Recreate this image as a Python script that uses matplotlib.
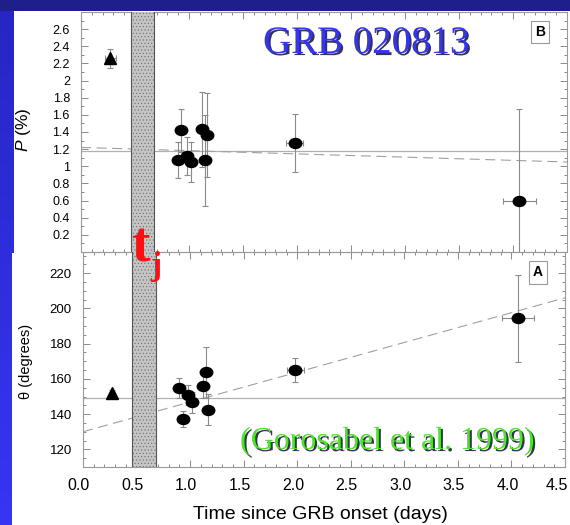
import numpy as np
import matplotlib
matplotlib.use("Agg")
import matplotlib.pyplot as plt
from matplotlib.patches import Rectangle
from matplotlib.path import Path
from matplotlib.transforms import ScaledTranslation
import matplotlib.patheffects as pe
from matplotlib.ticker import MultipleLocator, FormatStrFormatter, FuncFormatter

plt.rcParams['font.family'] = ['Liberation Sans', 'DejaVu Sans']
plt.rcParams['mathtext.fontset'] = 'custom'
plt.rcParams['mathtext.it'] = 'Liberation Sans:italic'
plt.rcParams['mathtext.rm'] = 'Liberation Sans'
plt.rcParams['hatch.linewidth'] = 0.4

# ---------------- data ----------------
# early point (triangle)
t_tri = [0.27]
t_tri_err = [0.05]
P_tri = [2.26]
P_tri_err = [0.11]
theta_tri = [152.0]
theta_tri_err = [1.5]

# GRB 020813 points (circles)
t_obs = [0.90, 0.93, 0.98, 1.02, 1.12, 1.145, 1.165, 1.98, 4.06]
t_obs_err = [0.0, 0.0, 0.0, 0.0, 0.0, 0.0, 0.0, 0.08, 0.15]
P_obs = [1.07, 1.42, 1.12, 1.05, 1.43, 1.07, 1.37, 1.27, 0.59]
P_obs_err = [0.21, 0.25, 0.22, 0.23, 0.44, 0.53, 0.49, 0.34, 1.08]
theta_obs = [154.8, 137.3, 150.8, 146.7, 156.1, 163.7, 142.6, 165.1, 194.3]
theta_obs_err = [5.6, 4.4, 5.5, 6.0, 7.0, 14.5, 8.7, 7.0, 24.6]

# reference lines
P_const = 1.18
theta_const = 149.0
fit_t = [0.0, 4.5]
fit_P = [1.22, 1.05]
fit_theta = [130.0, 206.0]

# jet break band (days)
tj_band = [0.46, 0.68]

x_ticks = [0.0, 0.5, 1.0, 1.5, 2.0, 2.5, 3.0, 3.5, 4.0, 4.5]

# ---------------- figure ----------------
W, H = 570, 525
fig = plt.figure(figsize=(W / 100, H / 100), dpi=100)

bg = fig.add_axes([0, 0, 1, 1], zorder=-10)
bg.set_xlim(0, W)
bg.set_ylim(H, 0)
bg.axis('off')
c1 = np.array([0x26, 0x26, 0xc4]) / 255
c2 = np.array([0x36, 0x36, 0xf4]) / 255
fr = np.linspace(0, 1, 256)[:, None, None]
grad = c1 * (1 - fr) + c2 * fr
grad = np.repeat(grad, 2, axis=1)
bg.imshow(grad, extent=[0, W, H, 0], aspect='auto', interpolation='bilinear')
bg.add_patch(Rectangle((0, 0), W, 11, color='#1f1f8c', lw=0))
bg.add_patch(Rectangle((14, 11), W - 14, 244, color='white', lw=0))
bg.add_patch(Rectangle((12, 253), W - 12, H - 253, color='white', lw=0))


def px_axes(l, t, r, b):
    return [l / W, 1 - b / H, (r - l) / W, (b - t) / H]


axP = fig.add_axes(px_axes(81, 12, 567, 252))
axT = fig.add_axes(px_axes(83, 252, 565, 467))

ell = Path.unit_circle()
ell = Path(ell.vertices * np.array([1.0, 0.8]), ell.codes)

ecol = '#8a8a8a'
for ax in (axP, axT):
    ax.set_facecolor('none')
    ax.set_xlim(0, 4.5)
    for s in ax.spines.values():
        s.set_color('#9a9a9a')
        s.set_linewidth(0.8)
    ax.xaxis.set_major_locator(MultipleLocator(0.5))
    ax.xaxis.set_minor_locator(MultipleLocator(0.1))
    ax.tick_params(which='both', direction='in', top=True, right=True,
                   color='#8a8a8a', width=0.7)
    ax.tick_params(which='major', length=5)
    ax.tick_params(which='minor', length=2.5)
    ax.axvspan(tj_band[0], tj_band[1], facecolor='#c4c4c4', edgecolor='#6e6e6e',
               hatch='.....', lw=0, zorder=3)
    for xv in tj_band:
        ax.axvline(xv, color='#555555', lw=0.8, zorder=3.1)

# ---- top panel: P ----
axP.set_ylim(0, 2.8)
axP.yaxis.set_major_locator(MultipleLocator(0.2))
axP.yaxis.set_minor_locator(MultipleLocator(0.1))
axP.yaxis.set_major_formatter(FuncFormatter(lambda v, p: '' if v < 0.1 or v > 2.7 else f'{v:g}'))
axP.tick_params(axis='x', labelbottom=False)
axP.tick_params(axis='y', labelsize=9, pad=8)
axP.axhline(P_const, color='#b0b0b0', lw=0.9, zorder=1)
axP.plot(fit_t, fit_P, color='#a0a0a0', lw=0.8, ls=(0, (9, 5)), zorder=1)
axP.errorbar(t_obs, P_obs, yerr=P_obs_err, xerr=t_obs_err, fmt='none',
             ecolor=ecol, elinewidth=0.8, capsize=2.5, capthick=0.8, zorder=4)
axP.errorbar(t_tri, P_tri, yerr=P_tri_err, xerr=t_tri_err, fmt='none',
             ecolor=ecol, elinewidth=0.8, capsize=2.5, capthick=0.8, zorder=4)
axP.plot(t_obs, P_obs, ls='none', marker=ell, ms=9, color='black', zorder=5)
axP.plot(t_tri, P_tri, ls='none', marker='^', ms=8, color='black', zorder=5)
axP.set_ylabel(r'$P$ (%)', fontsize=12.5)
axP.yaxis.set_label_coords(-0.099, 0.51)
axP.text(0.945, 0.917, 'B', transform=axP.transAxes, ha='center', va='center',
         fontsize=10, fontweight='bold',
         bbox=dict(boxstyle='square,pad=0.3', fc='white', ec='#9a9a9a', lw=0.8))

# ---- bottom panel: theta ----
axT.set_ylim(110, 232)
axT.yaxis.set_major_locator(MultipleLocator(20))
axT.yaxis.set_minor_locator(MultipleLocator(5))
axT.yaxis.set_major_formatter(FuncFormatter(lambda v, p: '' if v < 115 or v > 225 else f'{v:g}'))
axT.set_xticks(x_ticks)
axT.xaxis.set_major_formatter(FormatStrFormatter('%.1f'))
axT.tick_params(axis='y', labelsize=9.5, pad=8)
axT.tick_params(axis='x', labelsize=11.5, pad=8)
labs = axT.get_xticklabels()
for i, lab in enumerate(labs):
    dx = -8 if i == len(labs) - 1 else -4
    lab.set_transform(lab.get_transform() +
                      ScaledTranslation(dx / 100, 0, fig.dpi_scale_trans))
axT.axhline(theta_const, color='#b0b0b0', lw=0.9, zorder=1)
axT.plot(fit_t, fit_theta, color='#a0a0a0', lw=0.8, ls=(0, (9, 5)), zorder=1)
axT.errorbar(t_obs, theta_obs, yerr=theta_obs_err, xerr=t_obs_err, fmt='none',
             ecolor=ecol, elinewidth=0.8, capsize=2.5, capthick=0.8, zorder=4)
axT.errorbar(t_tri, theta_tri, yerr=theta_tri_err, fmt='none',
             ecolor=ecol, elinewidth=0.8, capsize=2.0, capthick=0.8, zorder=4)
axT.plot(t_obs, theta_obs, ls='none', marker=ell, ms=9, color='black', zorder=5)
axT.plot(t_tri, theta_tri, ls='none', marker='^', ms=8, color='black', zorder=5)
axT.set_ylabel('θ (degrees)', fontsize=10.5)
axT.yaxis.set_label_coords(-0.104, 0.49)
axT.text(0.944, 0.905, 'A', transform=axT.transAxes, ha='center', va='center',
         fontsize=10, fontweight='bold',
         bbox=dict(boxstyle='square,pad=0.3', fc='white', ec='#9a9a9a', lw=0.8))

fig.text(320 / W, 1 - 519 / H, 'Time since GRB onset (days)', ha='center',
         va='baseline', fontsize=14)

# ---- overlay texts ----
shadow = [pe.SimplePatchShadow(offset=(1.5, -1.5), shadow_rgbFace='#111133', alpha=0.85),
          pe.Normal()]
fig.text(263 / W, 1 - 53 / H, 'GRB 020813', family='Liberation Serif', fontsize=28,
         color='#3535ee', ha='left', va='baseline', path_effects=shadow, zorder=10)
fig.text(240 / W, 1 - 449 / H, '(Gorosabel et al. 1999)', family='Liberation Serif',
         fontsize=23, color='#4ee22c', ha='left', va='baseline', path_effects=shadow,
         zorder=10)
fig.text(131 / W, 1 - 262 / H, 't', family='Liberation Serif', fontweight='bold',
         fontsize=40, color='#ff1010', ha='left', va='baseline', zorder=10)
fig.text(150 / W, 1 - 275 / H, 'j', family='Liberation Serif', fontweight='bold',
         fontsize=24, color='#ff1010', ha='left', va='baseline', zorder=10)

fig.savefig('out.png', dpi=100, facecolor='#2a2ad0')
